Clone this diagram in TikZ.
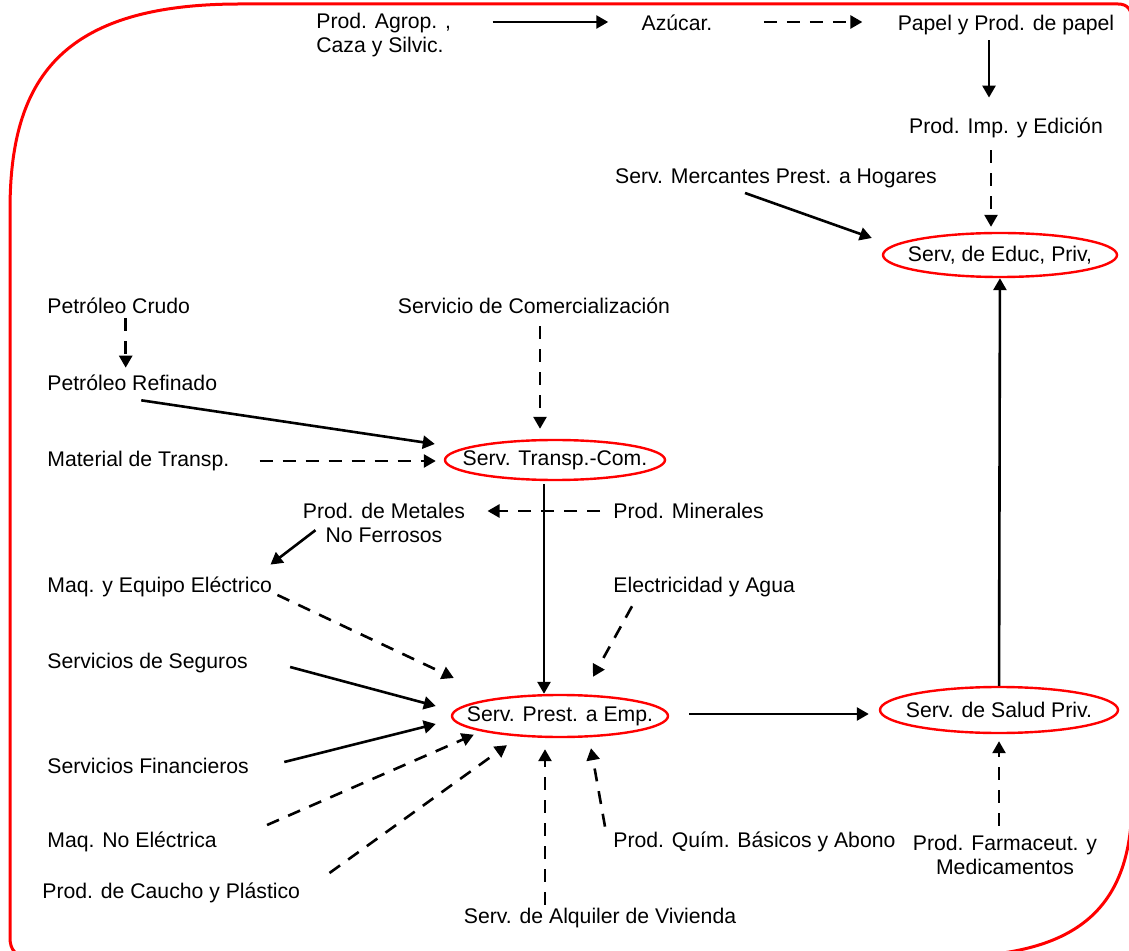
\documentclass[tikz,border=0pt]{standalone}
\usepackage{fontspec}
\setmainfont{Liberation Sans}
\usetikzlibrary{shapes.geometric,arrows.meta,calc}

\begin{document}
\begin{tikzpicture}[
    x=0.5pt,
    y=-0.5pt,
    font=\fontsize{10.6}{12}\selectfont,
    item/.style={
      inner sep=1pt
    },
    hub/.style={
      ellipse,
      draw=red,
      line width=1.2pt,
      inner sep=0pt
    },
    sol/.style={
      line width=1.3pt,
      -{Triangle[length=6pt,width=6.5pt]}
    },
    dsh/.style={
      sol,
      dash pattern=on 6.5pt off 5pt
    }]

    \useasboundingbox (0,0) rectangle (1129,951);

    % frame
    \draw[red, line width=1.5pt] (240,4) -- (1118,4)
      .. controls (1128,4) and (1132,10) .. (1132,22) -- (1132,800)
      .. controls (1132,915) and (1070,955) .. (950,957) -- (30,957)
      .. controls (16,957) and (10,950) .. (10,938) -- (10,210)
      .. controls (10,80) and (60,4) .. (240,4) -- cycle;

    % top chain
    \draw (314,35) node[item, anchor=west, align=left] (agrop) {Prod. Agrop. ,\\Caza y Silvic.};
    \draw (677,23) node[item] (azucar) {Azúcar.};
    \draw (1006,25) node[item] (papel) {Papel y Prod. de papel};
    \draw (1006,128) node[item] (imp) {Prod. Imp. y Edición};
    \draw (776,178) node[item] (merc) {Serv. Mercantes Prest. a Hogares};
    \draw (1000,255) node[hub, minimum width=117pt, minimum height=22pt] (educ) {\makebox[0pt]{Serv, de Educ, Priv,}};

    % transport
    \draw (45,306) node[item, anchor=west] (crudo) {Petróleo Crudo};
    \draw (534,306) node[item] (comer) {Servicio de Comercialización};
    \draw (45,383) node[item, anchor=west] (refin) {Petróleo Refinado};
    \draw (45,461) node[item, anchor=west] (mater) {Material de Transp.};
    \draw (555,460) node[hub, minimum width=110pt, minimum height=20pt] (transp) {\makebox[0pt]{Serv. Transp.-Com.}};
    \draw (384,523) node[item, align=center] (metal) {Prod. de Metales\\No Ferrosos};
    \draw (611,511) node[item, anchor=west] (miner) {Prod. Minerales};

    % business services
    \draw (45,587) node[item, anchor=west] (maqel) {Maq. y Equipo Eléctrico};
    \draw (611,587) node[item, anchor=west] (elec) {Electricidad y Agua};
    \draw (45,663) node[item, anchor=west] (segur) {Servicios de Seguros};
    \draw (560,716) node[hub, minimum width=108pt, minimum height=21pt] (prest) {\makebox[0pt]{Serv. Prest. a Emp.}};
    \draw (999,710) node[hub, minimum width=119pt, minimum height=23pt] (salud) {\makebox[0pt]{Serv. de Salud Priv.}};
    \draw (45,766) node[item, anchor=west] (finan) {Servicios Financieros};
    \draw (45,842) node[item, anchor=west] (noel) {Maq. No Eléctrica};
    \draw (40,893) node[item, anchor=west] (cauch) {Prod. de Caucho y Plástico};
    \draw (611,842) node[item, anchor=west] (quim) {Prod. Quím. Básicos y Abono};
    \draw (1005,855) node[item, align=center] (farm) {Prod. Farmaceut. y\\Medicamentos};
    \draw (600,918) node[item] (alq) {Serv. de Alquiler de Vivienda};

    % lines
    \draw[sol] ($(agrop.east |- azucar.west)+(39,-1)$) -- ($(azucar.west)+(-31,-1)$);
    \draw[dsh] ($(azucar.east)+(49,-1)$) -- ($(papel.west)+(-33,-3)$);
    \draw[sol] ($(papel.south)+(-17,3)$) -- ($(imp.north)+(-17,-18)$);
    \draw[dsh] ($(imp.south)+(-15,10)$) -- ($(imp.south |- educ.north)+(-15,-5)$);
    \draw[sol] ($(merc.south)+(-31,3)$) -- ($(educ.west)+(-10,-17)$);
    \draw[sol] (salud) -- (educ);

    \draw[dsh] ($(crudo.south)+(7,2)$) -- ($(crudo.south |- refin.north)+(7,-5)$);
    \draw[dsh] ($(comer.south)+(6,10)$) -- ($(comer.south |- transp.north)+(6,-10)$);
    \draw[sol] ($(refin.south)+(9,7)$) -- ($(transp.west)+(-9,-16)$);
    \draw[dsh] ($(mater.east)+(28,0)$) -- ($(transp.west)+(-8,1)$);
    \draw[sol] ($(transp.south)+(-11,3)$) -- ($(transp.south |- prest.north)+(-11,0)$);
    \draw[dsh] ($(miner.west)+(-11,0)$) -- ($(metal.east |- miner.west)+(20,0)$);
    \draw[sol] ($(metal.south west)+(15,-15)$) -- ($(maqel.north east)+(-4,-10)$);

    \draw[dsh] ($(maqel.east)+(3,8)$) -- ($(prest.west)+(3,-38)$);
    \draw[sol] ($(segur.east)+(40,4)$) -- ($(prest.west)+(-15,-10)$);
    \draw[sol] ($(finan.east)+(33,-4)$) -- ($(prest.west)+(-15,8)$);
    \draw[dsh] ($(elec.south west)+(21,7)$) -- ($(prest.north)+(33,-17)$);
    \draw[dsh] ($(noel.east)+(48,-17)$) -- ($(prest.south west)+(-9,3)$);
    \draw[dsh] ($(cauch.east)+(27,-20)$) -- ($(prest.south)+(-53,7)$);
    \draw[dsh] ($(alq.north)+(-55,-1)$) -- ($(prest.south)+(-15,11)$);
    \draw[dsh] ($(quim.north west)+(-6,-3)$) -- ($(prest.south)+(31,10)$);
    \draw[sol] ($(prest.east)+(20,-2)$) -- ($(salud.west)+(-10,4)$);
    \draw[dsh] ($(farm.north)+(-6,-7)$) -- ($(salud.south)+(0,7)$);
  \end{tikzpicture}
\end{document}
